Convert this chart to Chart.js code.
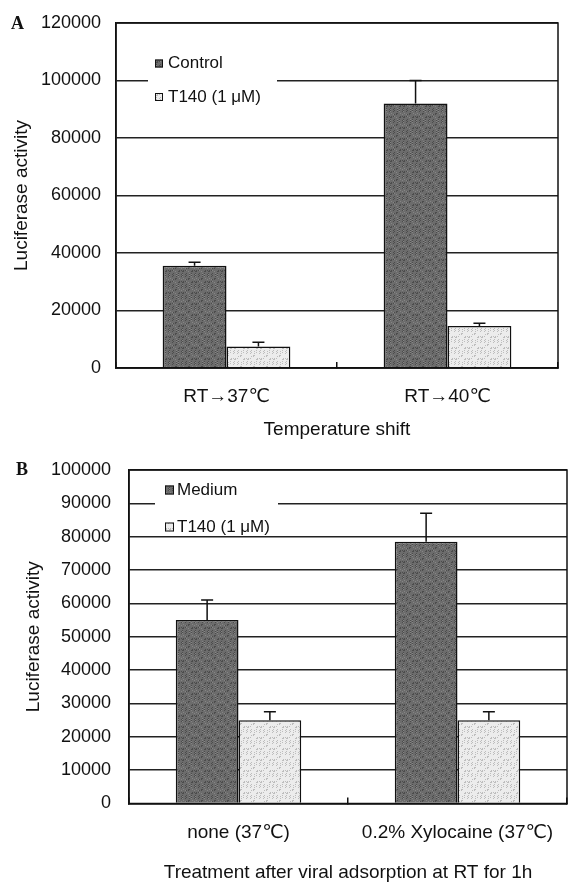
<!DOCTYPE html>
<html>
<head>
<meta charset="utf-8">
<script src="https://cdn.jsdelivr.net/npm/chart.js@4/dist/chart.umd.min.js"></script>
<style>
  html, body { margin: 0; padding: 0; background: #fff; }
  body { width: 568px; height: 882px; overflow: hidden; position: relative; }
  .panel { position: absolute; left: 0; width: 568px; }
  #wrapA { top: 0; height: 445px; }
  #wrapB { top: 445px; height: 440px; }
  .tag { position: absolute; font-family: 'Liberation Serif', 'DejaVu Serif', serif; font-weight: bold; font-size: 18px; line-height: 18px; color: #111; }
  #tagA { left: 11px; top: 14px; }
  #tagB { left: 16px; top: 460px; }
</style>
</head>
<body>
<div class="panel" id="wrapA"><canvas id="chartA"></canvas></div>
<div class="panel" id="wrapB"><canvas id="chartB"></canvas></div>
<div class="tag" id="tagA">A</div>
<div class="tag" id="tagB">B</div>
<script>
// ---------------- data (panel A) ----------------
const categoriesA = ['RT→37℃', 'RT→40℃'];
const seriesNamesA = ['Control', 'T140 (1 μM)'];
const controlA = [35600, 92000];
const controlErrA = [1200, 8000];
const t140A = [7500, 14600];
const t140ErrA = [1500, 1000];
const yTicksA = [0, 20000, 40000, 60000, 80000, 100000, 120000];
const xTitleA = 'Temperature shift';

// ---------------- data (panel B) ----------------
const categoriesB = ['none (37℃)', '0.2% Xylocaine (37℃)'];
const seriesNamesB = ['Medium', 'T140 (1 μM)'];
const mediumB = [55000, 78500];
const mediumErrB = [6000, 8500];
const t140B = [25000, 25000];
const t140ErrB = [2500, 2500];
const yTicksB = [0, 10000, 20000, 30000, 40000, 50000, 60000, 70000, 80000, 90000, 100000];
const xTitleB = 'Treatment after viral adsorption at RT for 1h';

const yTitle = 'Luciferase activity';

// ---------------- styling ----------------
const FONT = "'Liberation Sans', Arial, 'DejaVu Sans', sans-serif";
const INK = '#111';
Chart.defaults.font.family = FONT;
Chart.defaults.color = INK;

// fixed stipple texture (deterministic dither) to mimic the printed bar fills
function stipple(base, dark, light) {
  const c = document.createElement('canvas');
  c.width = 13; c.height = 11;
  const g = c.getContext('2d');
  g.fillStyle = base; g.fillRect(0, 0, 13, 11);
  for (let x = 0; x < 13; x++) {
    for (let y = 0; y < 11; y++) {
      const h = (x * 37 + y * 61 + x * y * 7) % 9;
      if (h === 0 || h === 4) { g.fillStyle = dark; g.fillRect(x, y, 1, 1); }
      else if (h === 7 && light) { g.fillStyle = light; g.fillRect(x, y, 1, 1); }
    }
  }
  return g.createPattern(c, 'repeat');
}
const DARK = stipple('#6c6c6c', '#4c4c4c', '#858585');
const LIGHT = stipple('#ececec', '#bdbdbd', null);

const errorBars = {
  id: 'errorBars',
  afterDatasetsDraw(chart) {
    const { ctx } = chart;
    const ys = chart.scales.y;
    chart.data.datasets.forEach((ds, i) => {
      const meta = chart.getDatasetMeta(i);
      meta.data.forEach((bar, j) => {
        const v = ds.data[j], e = ds.errors[j];
        const y0 = ys.getPixelForValue(v);
        const y1 = ys.getPixelForValue(v + e);
        ctx.save();
        ctx.strokeStyle = INK;
        ctx.lineWidth = 1.5;
        ctx.beginPath();
        ctx.moveTo(bar.x, y0);
        ctx.lineTo(bar.x, y1);
        ctx.moveTo(bar.x - 6, y1);
        ctx.lineTo(bar.x + 6, y1);
        ctx.stroke();
        ctx.restore();
      });
    });
  }
};

const boxLegend = {
  id: 'boxLegend',
  afterDatasetsDraw(chart, args, o) {
    const { ctx } = chart;
    ctx.save();
    ctx.fillStyle = '#fff';
    ctx.fillRect(o.boxX, o.boxY, o.boxW, o.boxH);
    ctx.font = o.fontSize + 'px ' + FONT;
    ctx.textBaseline = 'middle';
    chart.data.datasets.forEach((ds, i) => {
      const yy = o.rowY[i];
      ctx.fillStyle = ds.backgroundColor;
      ctx.fillRect(o.markX, yy - o.mark / 2, o.mark, o.mark);
      ctx.strokeStyle = INK;
      ctx.lineWidth = 1;
      ctx.strokeRect(o.markX + 0.5, yy - o.mark / 2 + 0.5, o.mark - 1, o.mark - 1);
      ctx.fillStyle = INK;
      ctx.fillText(ds.label, o.textX, yy);
    });
    ctx.restore();
  }
};

const frame = {
  id: 'frame',
  afterDraw(chart) {
    const { ctx, chartArea: a } = chart;
    ctx.save();
    ctx.strokeStyle = INK;
    ctx.lineWidth = 1.5;
    ctx.strokeRect(a.left, a.top, a.right - a.left, a.bottom - a.top);
    ctx.restore();
  }
};

function makeChart(canvasId, cfg) {
  return new Chart(document.getElementById(canvasId), {
    type: 'bar',
    data: {
      labels: cfg.categories,
      datasets: [
        { label: cfg.names[0], data: cfg.s1, errors: cfg.e1, backgroundColor: DARK,
          borderColor: INK, borderWidth: 1.5, categoryPercentage: cfg.catPct, barPercentage: 1 },
        { label: cfg.names[1], data: cfg.s2, errors: cfg.e2, backgroundColor: LIGHT,
          borderColor: INK, borderWidth: 1.5, categoryPercentage: cfg.catPct, barPercentage: 1 }
      ]
    },
    options: {
      responsive: true,
      maintainAspectRatio: false,
      animation: false,
      devicePixelRatio: 1,
      layout: { padding: { top: cfg.padTop, right: cfg.padRight, left: 0, bottom: 0 } },
      plugins: {
        legend: { display: false },
        tooltip: { enabled: false },
        boxLegend: cfg.legend
      },
      scales: {
        x: {
          afterFit: s => { s.height = cfg.xHeight; s.paddingLeft = 0; s.paddingRight = 0; },
          grid: { display: true, drawOnChartArea: false, drawTicks: true, tickLength: -6,
                  color: INK, lineWidth: 1.5 },
          border: { display: true, color: INK, width: 1.5 },
          ticks: { padding: cfg.xTickPad, font: { size: 19 }, color: INK, maxRotation: 0 },
          title: { display: true, text: cfg.xTitle, font: { size: 19 }, color: INK,
                   padding: { top: 0, bottom: cfg.xTitlePad } }
        },
        y: {
          min: cfg.ticks[0],
          max: cfg.ticks[cfg.ticks.length - 1],
          afterFit: s => { s.width = cfg.yWidth; s.paddingTop = 0; s.paddingBottom = 0; },
          afterBuildTicks: s => { s.ticks = cfg.ticks.map(v => ({ value: v })); },
          grid: { color: '#222', lineWidth: 1.4, drawTicks: false },
          border: { display: true, color: INK, width: 1.5 },
          ticks: { padding: cfg.yTickPad, font: { size: 18 }, color: INK,
                   callback: v => String(v) },
          title: { display: true, text: yTitle, font: { size: 19 }, color: INK,
                   padding: { top: cfg.yTitlePad, bottom: 0 } }
        }
      }
    },
    plugins: [errorBars, boxLegend, frame]
  });
}

makeChart('chartA', {
  categories: categoriesA, names: seriesNamesA,
  s1: controlA, e1: controlErrA, s2: t140A, e2: t140ErrA,
  ticks: yTicksA, xTitle: xTitleA, catPct: 0.578,
  padTop: 23, padRight: 10, yWidth: 116, xHeight: 445 - 368,
  yTickPad: 15, yTitlePad: 10.6, xTickPad: 23.6, xTitlePad: 3.6,
  legend: { boxX: 148, boxY: 50, boxW: 129, boxH: 60, markX: 155, mark: 8,
            rowY: [63.5, 97], textX: 168, fontSize: 17 }
});

makeChart('chartB', {
  categories: categoriesB, names: seriesNamesB,
  s1: mediumB, e1: mediumErrB, s2: t140B, e2: t140ErrB,
  ticks: yTicksB, xTitle: xTitleB, catPct: 0.573,
  padTop: 25, padRight: 1, yWidth: 129, xHeight: 440 - 358.5,
  yTickPad: 18, yTitlePad: 22.6, xTickPad: 24.1, xTitlePad: 0.9,
  legend: { boxX: 155, boxY: 31, boxW: 123, boxH: 59, markX: 165, mark: 9,
            rowY: [45, 82], textX: 177, fontSize: 17 }
});
</script>
</body>
</html>
